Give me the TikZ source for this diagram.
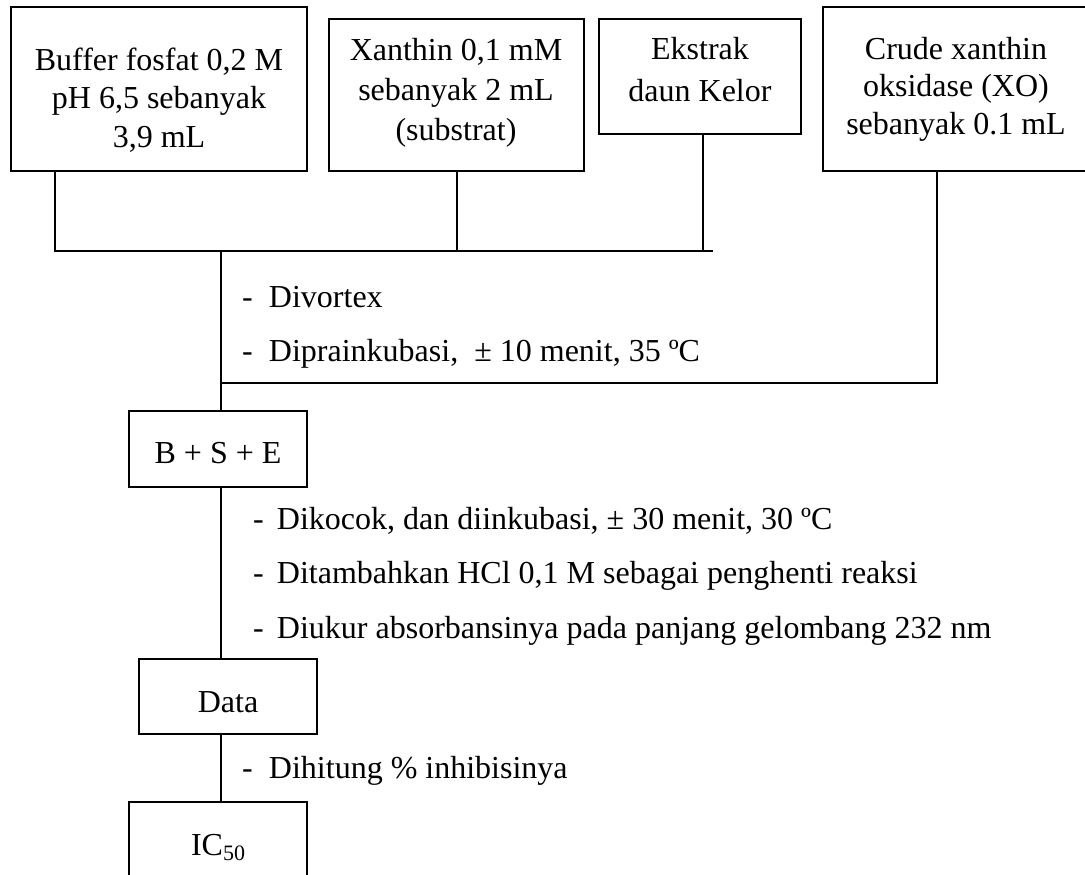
\documentclass[tikz,border=0pt]{standalone}
\usepackage{fontspec}
\setmainfont{Liberation Serif}
\begin{document}
\begin{tikzpicture}[x=1pt,y=-1pt,
  every node/.style={font=\fontsize{32}{38.5}\selectfont, inner sep=0pt, outer sep=0pt},
  box/.style={draw, line width=1.8pt, rectangle, anchor=north west},
  boxtext/.style={align=center, anchor=base},
  steptext/.style={anchor=base west},
  link/.style={line width=1.8pt}]
\useasboundingbox (0,0) rectangle (1085,875);
\clip (0,0) rectangle (1085,875);

% input boxes
\node[box, minimum width=296pt, minimum height=164pt] (buffer) at (11,7) {};
\node[box, minimum width=255pt, minimum height=152pt] (xanthin) at (329,19) {};
\node[box, minimum width=202pt, minimum height=115pt] (ekstrak) at (599,19) {};
\node[box, minimum width=267pt, minimum height=164pt] (crude) at (823,7) {};

% box labels, anchored on the baseline of their last line
\node[boxtext] (buffertext) at (159,147) {Buffer fosfat 0,2 M\\pH 6,5 sebanyak\\3,9 mL};
\node[boxtext, font=\fontsize{32}{40}\selectfont] (xanthintext) at (456,140) {Xanthin 0,1 mM\\sebanyak 2 mL\\(substrat)};
\node[boxtext, font=\fontsize{32}{42}\selectfont] (ekstraktext) at (700,101) {Ekstrak\\daun Kelor};
\node[boxtext, font=\fontsize{32}{37.5}\selectfont] (crudetext) at (956,134) {Crude xanthin\\oksidase (XO)\\sebanyak 0.1 mL};

% process boxes
\node[box, minimum width=178pt, minimum height=76pt, text height=28pt, text depth=0pt] (bse) at (129,411) {B + S + E};
\node[box, minimum width=178pt, minimum height=75pt, text height=31pt, text depth=0pt] (data) at (139,659) {Data};
\node[box, minimum width=178pt, minimum height=78pt, text height=28pt, text depth=0pt] (ic) at (129,802) {IC\raisebox{-5pt}{\fontsize{22}{22}\selectfont 50}};

% collecting line and main spine
\coordinate (j1) at (55,251);
\coordinate (jend) at (713,251);
\coordinate (spine) at (221,251);
\coordinate (xoend) at (937,383);
\coordinate (xst) at (457,251);
\coordinate (est) at (703,251);
\draw[link] (buffer.south -| j1) -- (j1) -- (jend);
\draw[link] (xanthin.south -| xst) -- (xst);
\draw[link] (ekstrak.south -| est) -- (est);
\draw[link] (spine) -- (spine |- bse.north);
\draw[link] (crude.south -| xoend) -- (xoend) -- (xoend -| spine);
\draw[link] (spine |- bse.south) -- (spine |- data.north);
\draw[link] (spine |- data.south) -- (spine |- ic.north);

% process steps
\node[steptext] (s1) at (242,307) {\makebox[27pt][l]{-}Divortex};
\node[steptext] (s2) at (242,361) {\makebox[27pt][l]{-}Diprainkubasi,\ \ ± 10 menit, 35 ºC};
\node[steptext] (s3) at (253,529) {\makebox[24pt][l]{-}Dikocok, dan diinkubasi, ± 30 menit, 30 ºC};
\node[steptext] (s4) at (253,583) {\makebox[24pt][l]{-}Ditambahkan HCl 0,1 M sebagai penghenti reaksi};
\node[steptext] (s5) at (253,638) {\makebox[24pt][l]{-}Diukur absorbansinya pada panjang gelombang 232 nm};
\node[steptext] (s6) at (242,778) {\makebox[27pt][l]{-}Dihitung \% inhibisinya};
\end{tikzpicture}
\end{document}
